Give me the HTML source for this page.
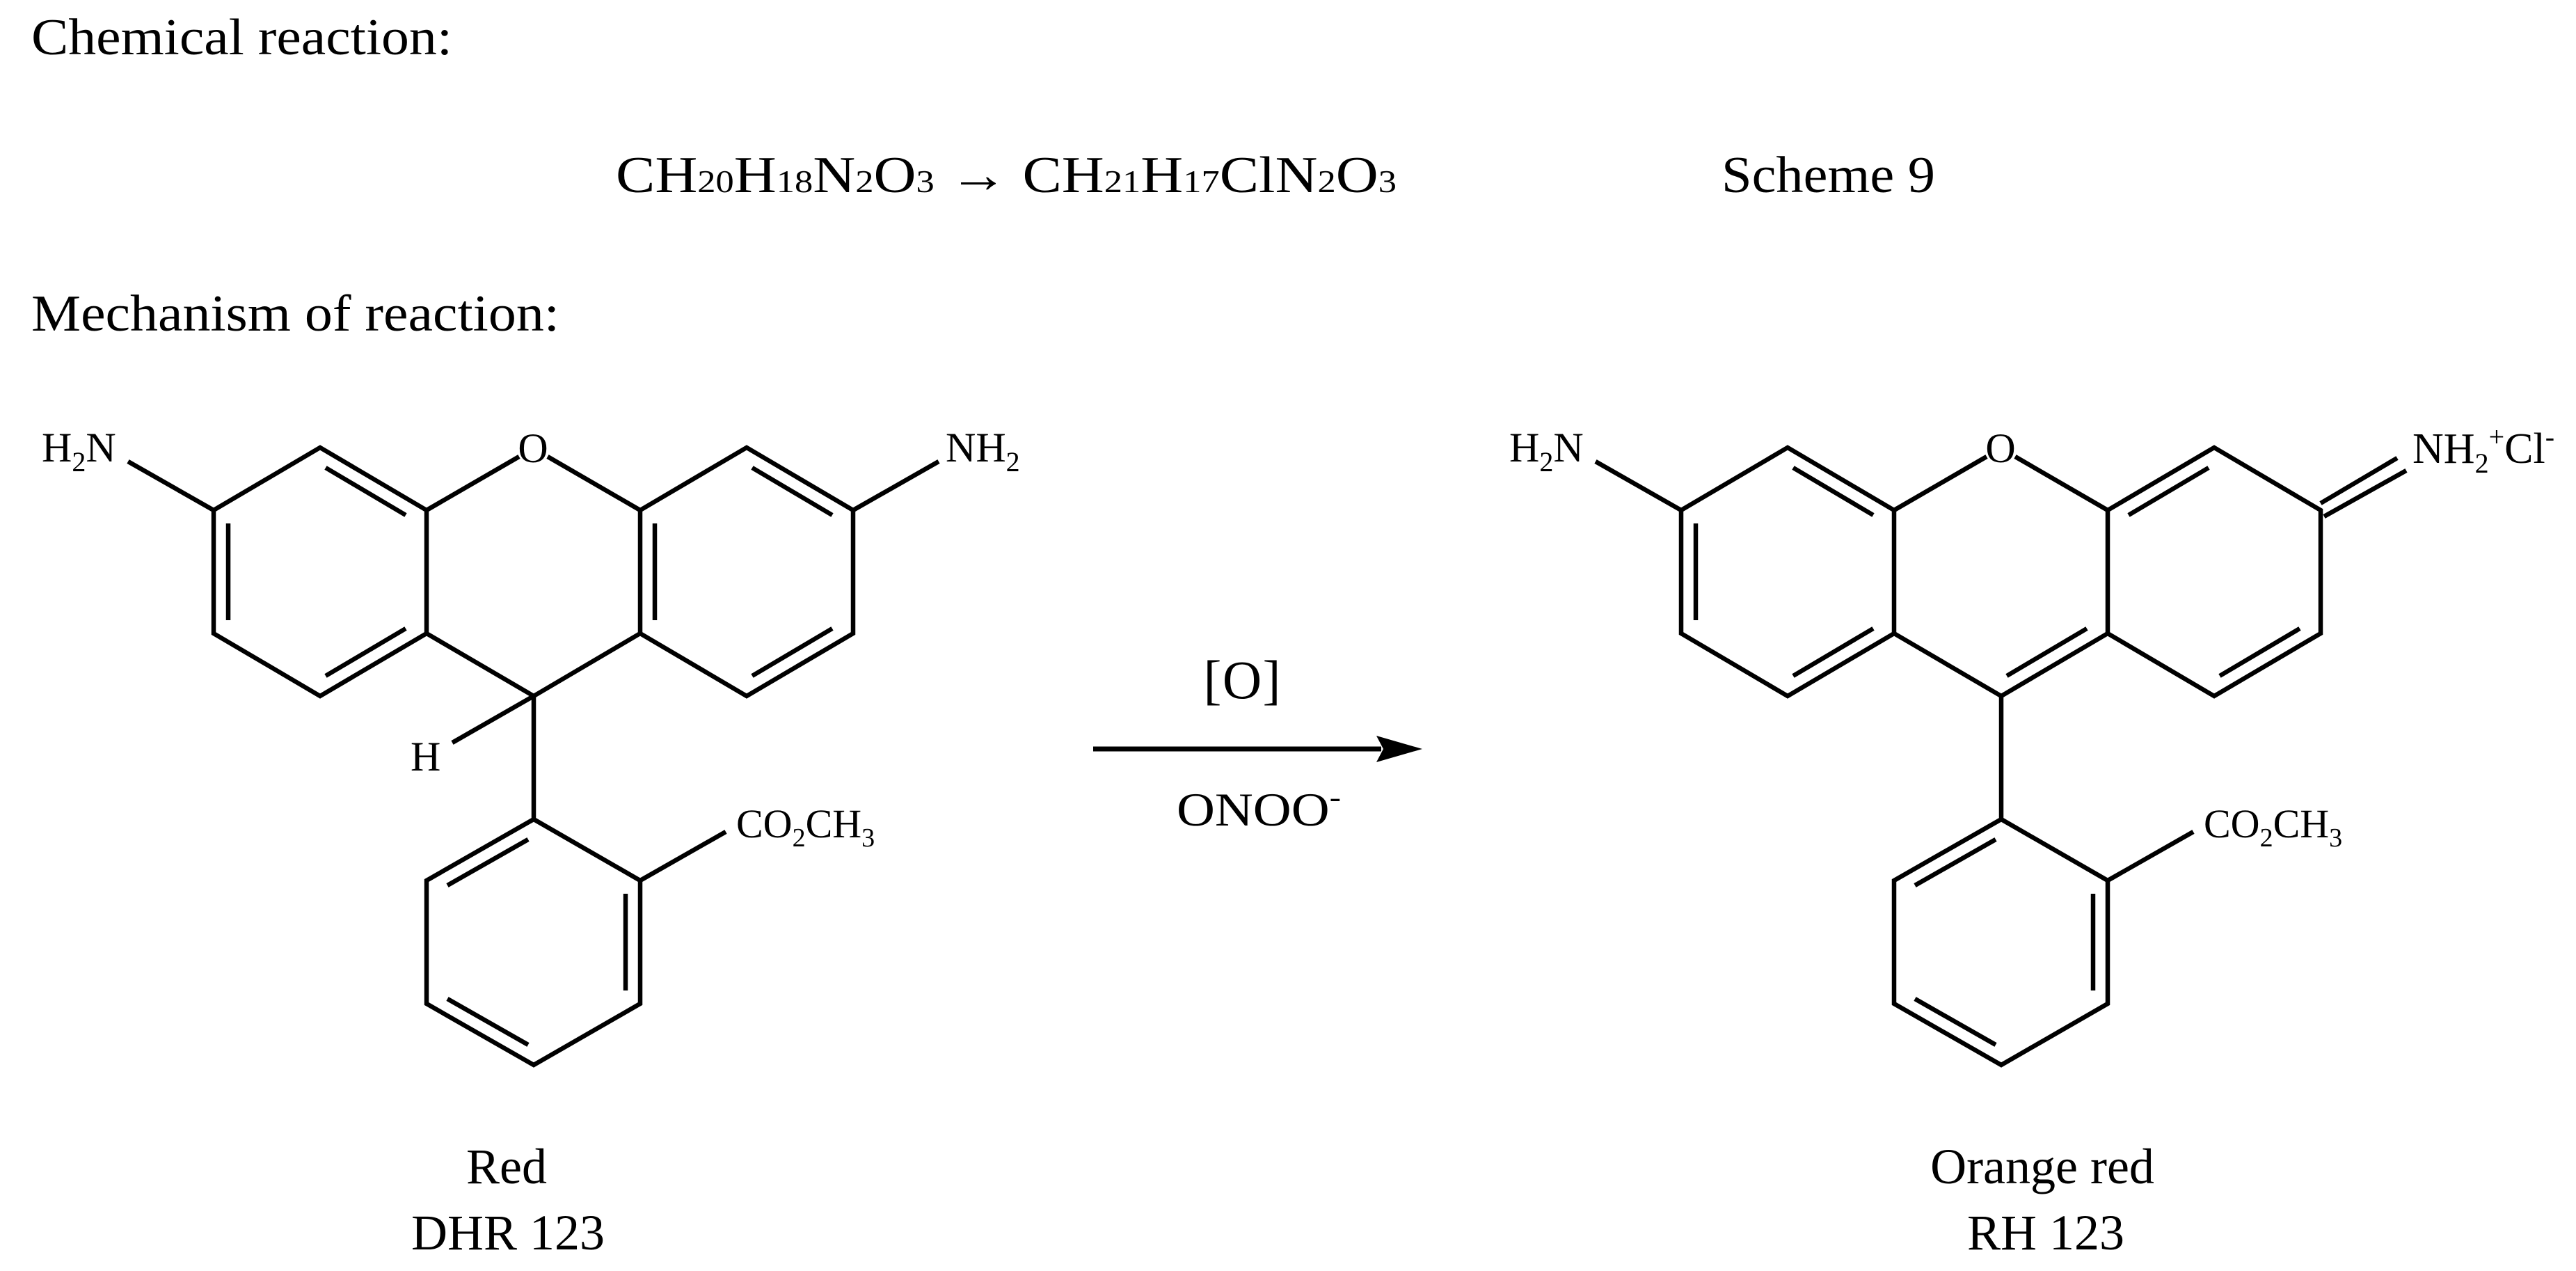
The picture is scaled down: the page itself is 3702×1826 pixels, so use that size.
<!DOCTYPE html>
<html><head><meta charset="utf-8"><style>
html,body{margin:0;padding:0;background:#fff;}
svg{display:block;}
text{font-family:"Liberation Serif",serif;fill:#000;}
</style></head><body>
<svg width="3702" height="1826" viewBox="0 0 3702 1826" xmlns="http://www.w3.org/2000/svg">
<text x="45" y="78" font-size="74" textLength="605" lengthAdjust="spacingAndGlyphs">Chemical reaction:</text>
<text x="885" y="276" font-size="74" textLength="1122" lengthAdjust="spacingAndGlyphs">CH<tspan font-size="46">20</tspan>H<tspan font-size="46">18</tspan>N<tspan font-size="46">2</tspan>O<tspan font-size="46">3</tspan> → CH<tspan font-size="46">21</tspan>H<tspan font-size="46">17</tspan>ClN<tspan font-size="46">2</tspan>O<tspan font-size="46">3</tspan></text>
<text x="2474" y="276" font-size="74" textLength="307" lengthAdjust="spacingAndGlyphs">Scheme 9</text>
<text x="45" y="475" font-size="74" textLength="759" lengthAdjust="spacingAndGlyphs">Mechanism of reaction:</text>

<line x1="1571" y1="1076" x2="1985" y2="1076" stroke="#000" stroke-width="7"/>
<polygon points="1978,1057 2044,1076 1978,1095 1988,1076" fill="#000"/>
<text x="1785" y="1003" font-size="78" text-anchor="middle" textLength="111" lengthAdjust="spacing">[O]</text>
<text x="1691" y="1186" font-size="68" textLength="236" lengthAdjust="spacingAndGlyphs">ONOO<tspan font-size="44" dy="-26">-</tspan></text>

<g stroke="#000" stroke-width="6.5" fill="none" stroke-linecap="butt" stroke-linejoin="miter">
  <polyline points="613,733 460,643 307,733 307,910 460,1000 613,910 613,733"/>
  <polyline points="920,733 1073,643 1226,733 1226,910 1073,1000 920,910 920,733"/>
  <line x1="613" y1="733" x2="746" y2="656"/>
  <line x1="787" y1="656" x2="920" y2="733"/>
  <line x1="613" y1="910" x2="767" y2="1000"/>
  <line x1="920" y1="910" x2="767" y2="1000"/>
  <line x1="307" y1="733" x2="184" y2="663"/>
  <line x1="1226" y1="733" x2="1349" y2="663"/>
  <line x1="767" y1="1000" x2="650" y2="1067"/>
  <line x1="767" y1="1000" x2="767" y2="1177"/>
  <polygon points="767,1177 920,1265 920,1442 767,1530 613,1442 613,1265"/>
  <line x1="920" y1="1265" x2="1043" y2="1195"/>
  <line x1="468" y1="672" x2="583" y2="740"/>
  <line x1="328" y1="752" x2="328" y2="891"/>
  <line x1="468" y1="971" x2="583" y2="903"/>
  <line x1="1081" y1="672" x2="1196" y2="740"/>
  <line x1="941" y1="752" x2="941" y2="891"/>
  <line x1="1081" y1="971" x2="1196" y2="903"/>
  <line x1="643" y1="1272" x2="759" y2="1206"/>
  <line x1="899" y1="1284" x2="899" y2="1423"/>
  <line x1="643" y1="1435" x2="759" y2="1501"/>
</g>
<text x="60" y="663" font-size="60">H<tspan font-size="40" dy="14">2</tspan><tspan dy="-14">N</tspan></text>
<text x="1359" y="663" font-size="60">NH<tspan font-size="40" dy="14">2</tspan></text>
<text x="766" y="664" font-size="60" text-anchor="middle">O</text>
<text x="590" y="1107" font-size="60">H</text>
<text x="1058" y="1203" font-size="58">CO<tspan font-size="38" dy="13">2</tspan><tspan dy="-13">CH</tspan><tspan font-size="38" dy="13">3</tspan></text>
<text x="728" y="1700" font-size="72" text-anchor="middle">Red</text>
<text x="730" y="1795" font-size="72" text-anchor="middle">DHR 123</text>

<g transform="translate(2109,0)" stroke="#000" stroke-width="6.5" fill="none">
  <polyline points="613,733 460,643 307,733 307,910 460,1000 613,910 613,733"/>
  <polyline points="920,733 1073,643 1226,733 1226,910 1073,1000 920,910 920,733"/>
  <line x1="613" y1="733" x2="746" y2="656"/>
  <line x1="787" y1="656" x2="920" y2="733"/>
  <line x1="613" y1="910" x2="767" y2="1000"/>
  <line x1="920" y1="910" x2="767" y2="1000"/>
  <line x1="307" y1="733" x2="184" y2="663"/>
  <line x1="1226" y1="723" x2="1336" y2="658"/>
  <line x1="1231" y1="742" x2="1349" y2="676"/>
  <line x1="767" y1="1000" x2="767" y2="1177"/>
  <polygon points="767,1177 920,1265 920,1442 767,1530 613,1442 613,1265"/>
  <line x1="920" y1="1265" x2="1043" y2="1195"/>
  <line x1="468" y1="672" x2="583" y2="740"/>
  <line x1="328" y1="752" x2="328" y2="891"/>
  <line x1="468" y1="971" x2="583" y2="903"/>
  <line x1="775" y1="971" x2="890" y2="903"/>
  <line x1="1065" y1="672" x2="950" y2="740"/>
  <line x1="1081" y1="971" x2="1196" y2="903"/>
  <line x1="643" y1="1272" x2="759" y2="1206"/>
  <line x1="899" y1="1284" x2="899" y2="1423"/>
  <line x1="643" y1="1435" x2="759" y2="1501"/>
</g>
<text x="2169" y="663" font-size="60">H<tspan font-size="40" dy="14">2</tspan><tspan dy="-14">N</tspan></text>
<text x="2875" y="664" font-size="60" text-anchor="middle">O</text>
<text x="3467" y="665" font-size="62">NH<tspan font-size="40" dy="14">2</tspan><tspan font-size="40" dy="-38">+</tspan><tspan font-size="62" dy="24">Cl</tspan><tspan font-size="40" dy="-24">-</tspan></text>
<text x="3167" y="1203" font-size="58">CO<tspan font-size="38" dy="13">2</tspan><tspan dy="-13">CH</tspan><tspan font-size="38" dy="13">3</tspan></text>
<text x="2935" y="1700" font-size="72" text-anchor="middle">Orange red</text>
<text x="2940" y="1795" font-size="72" text-anchor="middle">RH 123</text>
</svg>
</body></html>
